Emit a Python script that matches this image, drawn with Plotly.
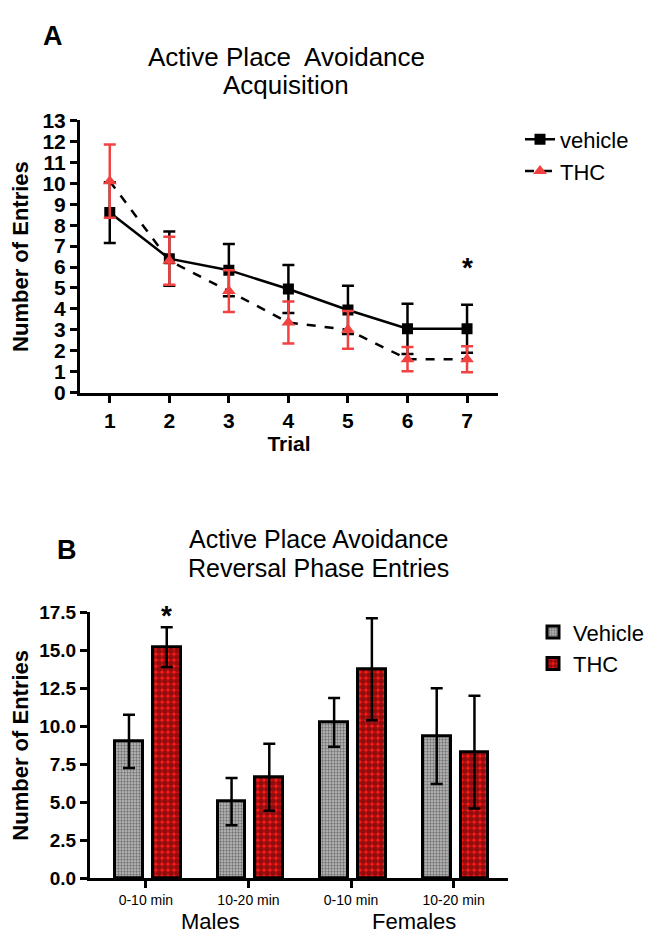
import plotly.graph_objects as go

FONT = "Liberation Sans, Arial, sans-serif"
RED = "#f24141"

# ---------------- Panel A data ----------------
trials = [1, 2, 3, 4, 5, 6, 7]
veh_mean = [8.6, 6.4, 5.85, 4.95, 3.95, 3.05, 3.05]
veh_sem = [1.45, 1.3, 1.25, 1.15, 1.15, 1.2, 1.15]
thc_mean = [10.1, 6.3, 4.85, 3.35, 3.0, 1.6, 1.6]
thc_sem = [1.75, 1.15, 1.0, 1.0, 0.9, 0.58, 0.62]
a_yticks = list(range(0, 14))

# ---------------- Panel B data ----------------
b_pos = [0, 1, 2, 3]
b_labels = ["0-10 min", "10-20 min", "0-10 min", "10-20 min"]
b_groups = ["Males", "Females"]
b_veh_mean = [9.0, 5.05, 10.25, 9.35]
b_veh_sem = [1.75, 1.55, 1.6, 3.15]
b_thc_mean = [15.2, 6.65, 13.75, 8.3]
b_thc_sem = [1.3, 2.2, 3.35, 3.7]
b_yticks = [0, 2.5, 5, 7.5, 10, 12.5, 15, 17.5]

W, H = 652, 939
def px(x):
    return x / W
def py(y):
    return 1 - y / H

fig = go.Figure()

# Panel A traces
fig.add_trace(go.Scatter(
    x=trials, y=veh_mean, mode="lines+markers", name="vehicle",
    line=dict(color="black", width=2.5),
    marker=dict(symbol="square", size=11, color="black"),
    error_y=dict(type="data", array=veh_sem, color="black", thickness=2.5, width=6),
    xaxis="x", yaxis="y", legend="legend"))
fig.add_trace(go.Scatter(
    x=trials, y=thc_mean, mode="lines+markers", name="THC",
    line=dict(color="black", width=2.5, dash="dash"),
    marker=dict(symbol="triangle-up", size=12, color=RED),
    error_y=dict(type="data", array=thc_sem, color=RED, thickness=2.5, width=6),
    xaxis="x", yaxis="y", legend="legend"))

# Panel B traces
fig.add_trace(go.Bar(
    x=b_pos, y=b_veh_mean, name="Vehicle", width=0.27, offset=-0.30,
    marker=dict(color="#a0a0a0", line=dict(color="black", width=3),
                pattern=dict(shape=".", size=3, solidity=0.5, fgcolor="#202020", bgcolor="#c4c4c4")),
    error_y=dict(type="data", array=b_veh_sem, color="black", thickness=2.5, width=6),
    xaxis="x2", yaxis="y2", legend="legend2"))
fig.add_trace(go.Bar(
    x=b_pos, y=b_thc_mean, name="THC", width=0.27, offset=0.068,
    marker=dict(color="#ff0000", line=dict(color="black", width=3),
                pattern=dict(shape=".", size=6, solidity=0.7, fgcolor="#200000", bgcolor="#ff1a1a")),
    error_y=dict(type="data", array=b_thc_sem, color="black", thickness=2.5, width=6),
    xaxis="x2", yaxis="y2", legend="legend2"))

axis_common = dict(showline=True, linewidth=3, linecolor="black", ticks="outside",
                   ticklen=7, tickwidth=3, tickcolor="black", showgrid=False, zeroline=False)

fig.update_layout(
    width=W, height=H, margin=dict(l=0, r=0, t=0, b=0),
    paper_bgcolor="white", plot_bgcolor="white",
    font=dict(family=FONT, color="black"),
    xaxis=dict(domain=[px(72), px(490)], range=[0.5, 7.52], tickvals=trials,
               tickfont=dict(size=21, weight="bold"),
               title=dict(text="Trial", font=dict(size=21, weight="bold"), standoff=6),
               anchor="y", **axis_common),
    yaxis=dict(domain=[py(382), py(103)], range=[0, 13], tickvals=a_yticks,
               tickfont=dict(size=21, weight="bold"),
               title=dict(text="Number of Entries", font=dict(size=22, weight="bold"), standoff=8),
               anchor="x", **axis_common),
    xaxis2=dict(domain=[px(82), px(500)], range=[-0.545, 3.53], tickvals=b_pos, ticktext=b_labels,
                tickfont=dict(size=14), anchor="y2", **axis_common),
    yaxis2=dict(domain=[py(880), py(607)], range=[0, 17.5], tickvals=b_yticks,
                tickformat=".1f", tickfont=dict(size=19, weight="bold"),
                title=dict(text="Number of Entries", font=dict(size=22, weight="bold"), standoff=8),
                anchor="x2", **axis_common),
    legend=dict(x=px(512), y=py(101), xanchor="left", yanchor="top",
                font=dict(size=22), bgcolor="rgba(0,0,0,0)", tracegroupgap=0),
    legend2=dict(x=px(525), y=py(606), xanchor="left", yanchor="top",
                 font=dict(size=22), bgcolor="rgba(0,0,0,0)"),
    bargap=0,
)

annotations = [
    dict(text="A", x=px(33), y=py(16), xref="paper", yref="paper", xanchor="left", yanchor="middle",
         showarrow=False, font=dict(size=27, weight="bold")),
    dict(text="Active Place  Avoidance", x=px(278), y=py(38), xref="paper", yref="paper",
         xanchor="center", yanchor="middle", showarrow=False, font=dict(size=26)),
    dict(text="Acquisition", x=px(278), y=py(67), xref="paper", yref="paper",
         xanchor="center", yanchor="middle", showarrow=False, font=dict(size=26)),
    dict(text="*", x=7, y=6.0, xref="x", yref="y", showarrow=False, font=dict(size=28, weight="bold")),
    dict(text="B", x=px(47), y=py(543), xref="paper", yref="paper", xanchor="left", yanchor="middle",
         showarrow=False, font=dict(size=27, weight="bold")),
    dict(text="Active Place Avoidance", x=px(310), y=py(532), xref="paper", yref="paper",
         xanchor="center", yanchor="middle", showarrow=False, font=dict(size=25)),
    dict(text="Reversal Phase Entries", x=px(310), y=py(562), xref="paper", yref="paper",
         xanchor="center", yanchor="middle", showarrow=False, font=dict(size=25)),
    dict(text="*", x=0.2, xref="x2", y=py(610), yref="paper", showarrow=False,
         font=dict(size=28, weight="bold")),
    dict(text=b_groups[0], x=px(202), y=py(924), xref="paper", yref="paper", xanchor="center",
         yanchor="middle", showarrow=False, font=dict(size=22)),
    dict(text=b_groups[1], x=px(406), y=py(924), xref="paper", yref="paper", xanchor="center",
         yanchor="middle", showarrow=False, font=dict(size=22)),
]
fig.update_layout(annotations=annotations)

fig.write_html("out.html")
